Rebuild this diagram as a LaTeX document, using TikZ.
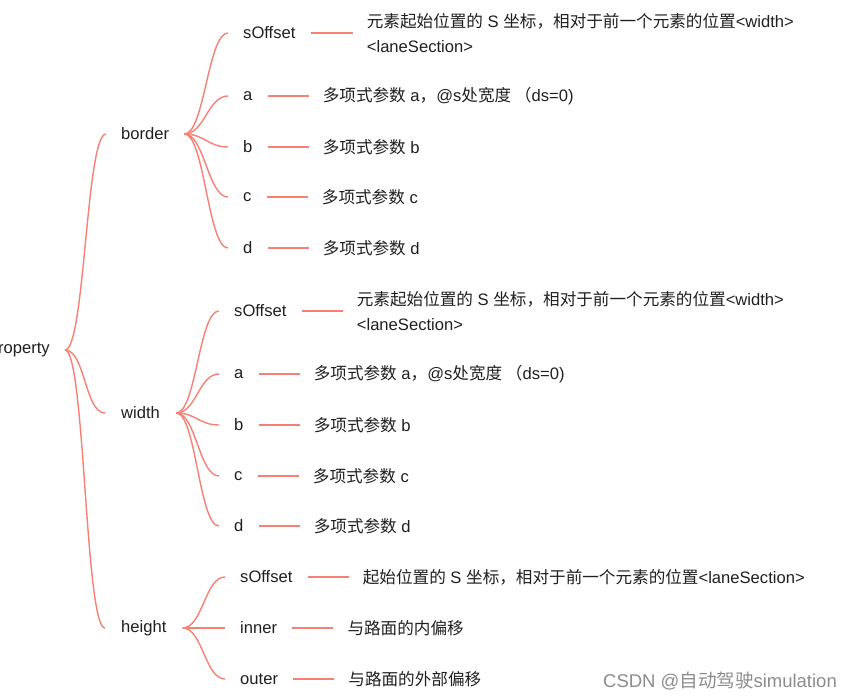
\documentclass[tikz,border=0pt]{standalone}
\usepackage{fontspec}
\setmainfont{Liberation Sans}
\newfontfamily\cjk{Noto Sans CJK SC}
\usetikzlibrary{positioning}
\definecolor{branchred}{RGB}{247,128,116}
\tikzset{
  item/.style={inner xsep=15pt,inner ysep=2pt,anchor=west,text=black!88,
    font=\fontsize{16.6}{25}\selectfont},
  desc/.style={item,inner xsep=14pt,align=left},
  branch/.style={draw=branchred,line width=1.4pt},
}

\begin{document}
\begin{tikzpicture}[x=1pt,y=-1pt]
        \useasboundingbox (0,0) rectangle (851,700);
        % root and the three groups
        \node[item,anchor=east] (property) at (65,350) {property};
        \node[item] (border) at (106,134) {border};
        \node[item,inner xsep=16pt] (width) at (105,413) {width};
        \node[item,inner xsep=16pt] (height) at (105,628) {height};
        % border
        \node[item] (bsoff) at (228,33) {sOffset};
        \node[item] (ba) at (228,96) {a};
        \node[item] (bb) at (228,147) {b};
        \node[item] (bc) at (228,197) {c};
        \node[item] (bd) at (228,248) {d};
        \node[desc,right=42pt of bsoff] (bsoffd) {{\cjk 元素起始位置的} S {\cjk 坐标，相对于前一个元素的位置}<width>\\<laneSection>};
        \node[desc,right=41pt of ba] (bad) {{\cjk 多项式参数} a{\cjk ，}@s{\cjk 处宽度 （}ds=0)};
        \node[desc,right=41pt of bb] (bbd) {{\cjk 多项式参数} b};
        \node[desc,right=41pt of bc] (bcd) {{\cjk 多项式参数} c};
        \node[desc,right=41pt of bd] (bdd) {{\cjk 多项式参数} d};
        % width
        \node[item] (wsoff) at (219,311) {sOffset};
        \node[item] (wa) at (219,374) {a};
        \node[item] (wb) at (219,425) {b};
        \node[item] (wc) at (219,476) {c};
        \node[item] (wd) at (219,526) {d};
        \node[desc,right=41pt of wsoff] (wsoffd) {{\cjk 元素起始位置的} S {\cjk 坐标，相对于前一个元素的位置}<width>\\<laneSection>};
        \node[desc,right=41pt of wa] (wad) {{\cjk 多项式参数} a{\cjk ，}@s{\cjk 处宽度 （}ds=0)};
        \node[desc,right=41pt of wb] (wbd) {{\cjk 多项式参数} b};
        \node[desc,right=41pt of wc] (wcd) {{\cjk 多项式参数} c};
        \node[desc,right=41pt of wd] (wdd) {{\cjk 多项式参数} d};
        % height
        \node[item] (hsoff) at (225,577) {sOffset};
        \node[item] (hin) at (225,628) {inner};
        \node[item] (hout) at (225,679) {outer};
        \node[desc,right=41pt of hsoff] (hsoffd) {{\cjk 起始位置的} S {\cjk 坐标，相对于前一个元素的位置}<laneSection>};
        \node[desc,right=41pt of hin] (hind) {\cjk 与路面的内偏移};
        \node[desc,right=41pt of hout] (houtd) {\cjk 与路面的外部偏移};
        % branches
        \foreach \g in {border,width,height}
            \draw[branch] (property.east) .. controls +(20,0) and +(-20,0) .. (\g.west);
        \foreach \p/\c in {border/bsoff,border/ba,border/bb,border/bc,border/bd,
                           width/wsoff,width/wa,width/wb,width/wc,width/wd,
                           height/hsoff,height/hin,height/hout}
            \draw[branch] (\p.east) .. controls +(20,0) and +(-20,0) .. (\c.west);
        \foreach \c/\d in {bsoff/bsoffd,ba/bad,bb/bbd,bc/bcd,bd/bdd,
                           wsoff/wsoffd,wa/wad,wb/wbd,wc/wcd,wd/wdd,
                           hsoff/hsoffd,hin/hind,hout/houtd}
            \draw[branch] (\c.east) -- (\d.west);
        \node[anchor=east,inner sep=0pt,text=black!45,font=\fontsize{18.5}{20}\selectfont] (mark) at (837,681) {CSDN @{\cjk 自动驾驶}simulation};
    \end{tikzpicture}
\end{document}
